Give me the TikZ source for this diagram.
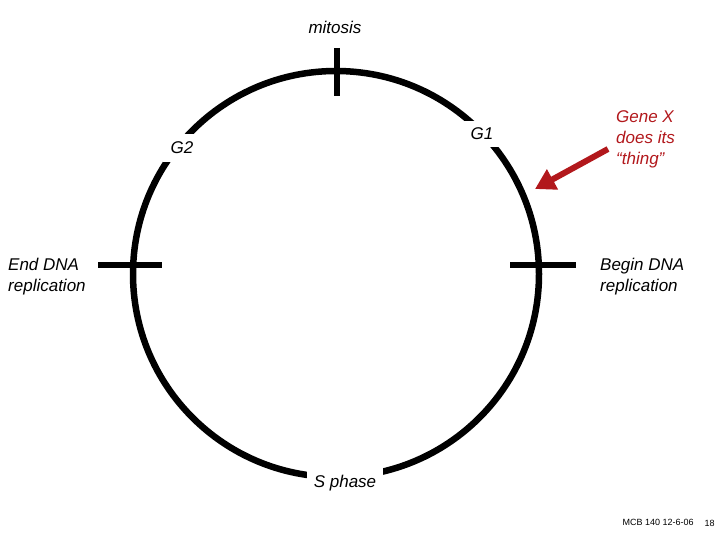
\documentclass[tikz,border=0pt]{standalone}
\usepackage{fontspec}
\setmainfont{Liberation Sans}
\usetikzlibrary{arrows.meta}
\definecolor{genered}{RGB}{178,24,28}
\begin{document}
\begin{tikzpicture}[x=1pt,y=-1pt,
  lbl/.style={font=\fontsize{17}{21}\selectfont\itshape, inner sep=1pt},
  gaplbl/.style={lbl, fill=white, inner sep=6pt},
  ring/.style={line width=6.5pt, draw=black},
  tick/.style={line width=5.5pt, draw=black}]
\useasboundingbox (0,0) rectangle (720,540);
\node[ring, circle, minimum size=406pt, inner sep=0pt] (cyc) at (336,274) {};
\coordinate (top1) at (337,48); \coordinate (top2) at (337,96);
\coordinate (l1) at (98,265); \coordinate (l2) at (162,265);
\coordinate (r1) at (510,265); \coordinate (r2) at (576,265);
\draw[tick] (top1) -- (top2);
\draw[tick] (l1) -- (l2);
\draw[tick] (r1) -- (r2);
\node[gaplbl, inner sep=7pt] (g1) at (482,134) {G1};
\node[gaplbl, inner sep=8pt] (g2) at (182,148) {G2};
\node[gaplbl, inner xsep=7pt, inner ysep=8pt] (s) at (345,483) {S phase};
\node[lbl] (mit) at (335,27) {mitosis};
\node[lbl, align=left, anchor=west] (end) at (7,276.5) {End DNA\\replication};
\node[lbl, align=left, anchor=west] (beg) at (599,276.5) {Begin DNA\\replication};
\node[lbl, align=left, anchor=west, text=genered] (gene) at (615,139) {Gene X\\does its\\“thing”};
\coordinate (tip) at (535,189);
\draw[genered, line width=6pt, -{Triangle[length=20pt,width=22pt]}] (608,149) -- (tip);
\node[font=\fontsize{9}{10}\selectfont, anchor=west] (foot) at (619,522) {MCB 140 12-6-06};
\node[font=\fontsize{9}{10}\selectfont, anchor=west] (pg) at (701,523) {18};
\end{tikzpicture}
\end{document}
